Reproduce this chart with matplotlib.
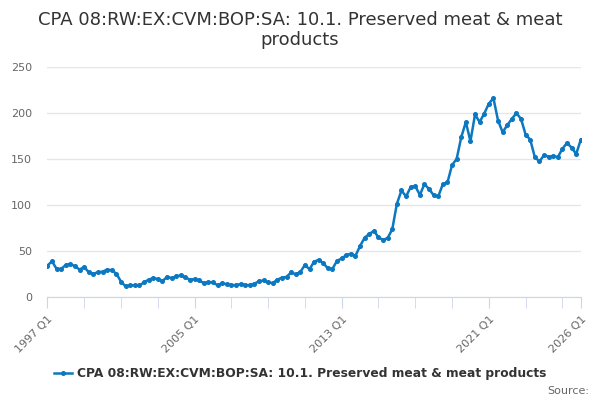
import matplotlib.pyplot as plt
import numpy as np

# quarterly values, 1997 Q1 .. 2026 Q1
values = [
    34.3, 39.0, 30.7, 30.7, 35.0, 36.0, 33.6, 30.0, 32.8, 27.0,
    25.5, 27.0, 27.7, 30.0, 29.2, 25.5, 17.0, 11.7, 12.8, 12.8,
    12.8, 16.0, 19.0, 20.8, 19.7, 17.5, 21.9, 20.8, 22.6, 23.7,
    21.5, 19.0, 19.7, 18.2, 15.3, 16.0, 16.4, 12.8, 15.3, 13.9,
    13.1, 13.1, 14.2, 13.1, 13.1, 14.6, 17.2, 18.2, 16.0, 15.3,
    19.0, 21.2, 21.9, 27.0, 24.8, 27.3, 35.0, 30.3, 38.6, 40.6,
    37.0, 31.2, 30.9, 39.6, 42.0, 45.7, 47.2, 45.0, 55.6, 64.6,
    68.6, 71.9, 65.0, 62.0, 64.3, 73.7, 101.3, 115.8, 109.3, 119.5,
    120.5, 111.0, 122.7, 117.3, 110.7, 109.3, 122.7, 124.5, 143.4, 150.0,
    173.6, 190.0, 169.2, 198.3, 190.0, 199.3, 210.0, 216.0, 191.7, 179.0,
    186.6, 193.5, 199.7, 193.5, 176.5, 171.0, 152.0, 147.4, 154.0, 152.5,
    153.2, 152.0, 161.0, 167.4, 162.3, 155.4, 171.0,
]
start_year = 1997
label_years = [1997, 2005, 2013, 2021, 2026]
y_ticks = [0, 50, 100, 150, 200, 250]
series_name = 'CPA 08:RW:EX:CVM:BOP:SA: 10.1. Preserved meat & meat products'
title = 'CPA 08:RW:EX:CVM:BOP:SA: 10.1. Preserved meat & meat\nproducts'

plt.rcParams['font.family'] = ['DejaVu Sans']

x = np.arange(len(values))
line_col = '#0b78c1'

fig = plt.figure(figsize=(6, 4), dpi=100)
ax = fig.add_axes([0.079, 0.257, 0.889, 0.576])

ax.plot(x, values, color=line_col, lw=1.8, marker='o', ms=2.6,
        label=series_name)

ax.set_xlim(0, len(values) - 1)
ax.set_ylim(0, 250)
ax.set_yticks(y_ticks)
ax.set_yticklabels([str(v) for v in y_ticks], color='#666666', fontsize=8)
ax.yaxis.grid(True, color='#e6e6e6', lw=1)
ax.set_axisbelow(True)
ax.tick_params(axis='y', length=0, pad=11)

# tick every two years, labels only on some
minor_pos = np.arange(0, len(values), 8)
ax.set_xticks(minor_pos, minor=True)
major_pos = [(y - start_year) * 4 for y in label_years]
ax.set_xticks(major_pos)
ax.set_xticklabels(['%d Q1' % y for y in label_years], rotation=45,
                   ha='right', rotation_mode='anchor', fontsize=8,
                   color='#666666')
ax.tick_params(axis='x', which='both', length=8, color='#ccd6eb', pad=4)

for s in ['top', 'right', 'left']:
    ax.spines[s].set_visible(False)
ax.spines['bottom'].set_color('#ccd6eb')

fig.suptitle(title, fontsize=13, color='#333333', y=0.972, linespacing=1.15)

leg = fig.legend(loc='lower center', bbox_to_anchor=(0.5, 0.022), frameon=False,
                 fontsize=8.8, handlelength=1.5, handletextpad=0.4)
for t in leg.get_texts():
    t.set_fontweight('bold')
    t.set_color('#333333')

fig.text(0.982, 0.01, 'Source:', ha='right', va='bottom', fontsize=8,
         color='#666666')

fig.savefig('out.png', dpi=100)
